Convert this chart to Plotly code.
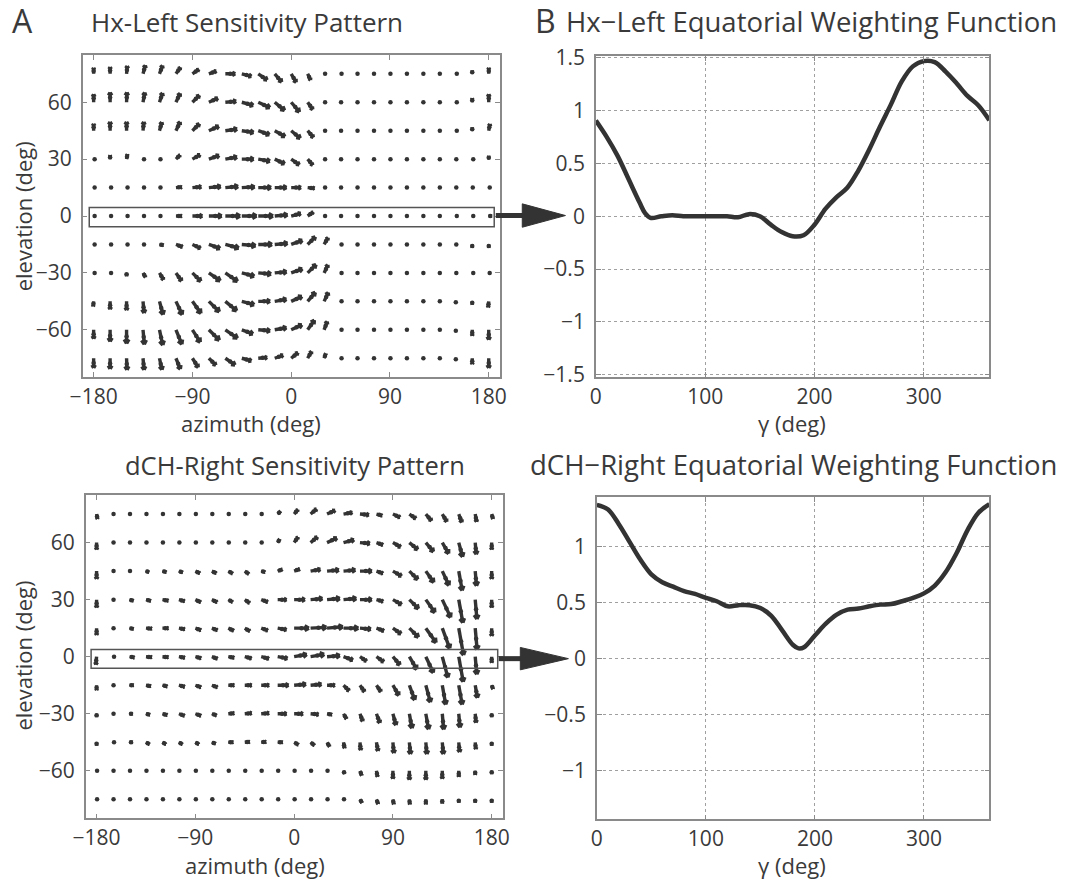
import numpy as np
import plotly.graph_objects as go

# page geometry: the browser body keeps an 8px margin, so the figure is drawn 16px smaller
PAGE_W, PAGE_H = 1083, 896
OFF = 8
FW, FH = PAGE_W - 2 * OFF, PAGE_H - 2 * OFF
FONT = "Open Sans"
TXT = "#3a3a3a"
INK = "#333333"
AXC = "#8a8a8a"

# ---------------- data ----------------
AZIMUTH = list(range(-180, 181, 15))          # 25 columns
ELEVATION = list(range(75, -76, -15))         # 11 rows, top to bottom

# Hx-Left sensitivity pattern: arrow magnitude and direction (deg, CCW from east)
HX_MAG = [
    [6, 7, 8, 9, 9, 8, 8, 8, 10, 10, 11, 11, 10, 7, 2, 2, 1, 1, 1, 1, 1, 1, 2, 3, 6],
    [8, 10, 10, 10, 10, 10, 10, 10, 11, 12, 13, 13, 13, 9, 2, 1, 1, 1, 1, 1, 1, 1, 2, 4, 8],
    [7, 9, 9, 9, 9, 10, 10, 11, 12, 12, 12, 12, 12, 9, 2, 1, 1, 1, 1, 1, 1, 1, 2, 3, 7],
    [2, 4, 5, 2, 2, 6, 9, 11, 12, 12, 12, 11, 10, 8, 2, 1, 1, 1, 1, 1, 1, 1, 1, 2, 3],
    [2, 2, 2, 2, 2, 6, 9, 12, 13, 13, 13, 12, 10, 7, 2, 1, 1, 1, 1, 1, 1, 1, 1, 1, 2],
    [2, 2, 2, 2, 2, 6, 10, 13, 15, 15, 15, 13, 10, 7, 2, 1, 1, 1, 1, 1, 1, 1, 2, 2, 3],
    [2, 2, 2, 2, 4, 7, 9, 12, 14, 14, 14, 13, 12, 11, 8, 2, 1, 1, 1, 1, 1, 1, 1, 3, 3],
    [2, 2, 3, 5, 8, 10, 12, 14, 15, 13, 13, 12, 12, 12, 9, 2, 1, 1, 1, 1, 1, 1, 1, 2, 2],
    [5, 8, 9, 12, 14, 15, 15, 15, 15, 13, 12, 12, 12, 12, 10, 2, 1, 1, 1, 1, 1, 1, 2, 3, 6],
    [9, 12, 14, 15, 16, 16, 15, 15, 15, 12, 12, 12, 12, 12, 9, 2, 1, 1, 1, 1, 1, 1, 2, 6, 10],
    [10, 11, 12, 12, 12, 12, 11, 10, 12, 10, 9, 9, 9, 8, 5, 2, 1, 1, 1, 1, 1, 1, 2, 6, 10],
]
HX_ANG = [
    [90, 90, 85, 75, 70, 55, 35, 20, 0, -15, -35, -50, -60, -65, 0, 0, 0, 0, 0, 0, 0, 0, 0, 90, 90],
    [90, 90, 88, 80, 72, 65, 45, 25, 5, -15, -25, -40, -50, -55, 0, 0, 0, 0, 0, 0, 0, 0, 0, 90, 90],
    [90, 90, 90, 85, 75, 65, 45, 25, 8, -8, -20, -30, -40, -50, 0, 0, 0, 0, 0, 0, 0, 0, 0, 90, 80],
    [0, 90, 80, 0, 0, 45, 30, 20, 10, 0, -10, -25, -35, -50, 0, 0, 0, 0, 0, 0, 0, 0, 0, 0, 90],
    [0, 0, 0, 0, 0, 5, 5, 5, 5, 3, 0, 0, 0, -5, 0, 0, 0, 0, 0, 0, 0, 0, 0, 0, 0],
    [0, 0, 0, 0, 0, 0, 0, 0, 0, 0, 0, 5, 15, 35, 0, 0, 0, 0, 0, 0, 0, 0, 0, 0, 0],
    [0, 0, 0, 0, -10, -20, -25, -20, -15, -5, 0, 5, 20, 45, 60, 0, 0, 0, 0, 0, 0, 0, 0, -90, -90],
    [0, 0, -90, -60, -60, -55, -45, -35, -35, -15, -5, 5, 20, 45, 65, 0, 0, 0, 0, 0, 0, 0, 0, 0, 0],
    [-95, -90, -90, -85, -75, -65, -55, -45, -40, -15, 0, 10, 25, 50, 65, 0, 0, 0, 0, 0, 0, 0, -90, -90, -95],
    [-90, -90, -90, -85, -78, -68, -58, -45, -35, -20, -5, 10, 25, 55, 70, 0, 0, 0, 0, 0, 0, 0, -90, -90, -90],
    [-90, -90, -88, -85, -78, -68, -58, -45, -35, -15, 5, 20, 40, 60, 70, 0, 0, 0, 0, 0, 0, 0, -90, -90, -90],
]

# dCH-Right sensitivity pattern
DCH_MAG = [
    [5, 1, 1, 1, 1, 1, 1, 1, 1, 1, 1, 4, 6, 8, 9, 9, 9, 6, 8, 8, 9, 9, 9, 8, 5],
    [7, 1, 1, 1, 1, 1, 1, 1, 1, 1, 1, 4, 7, 9, 11, 11, 10, 7, 9, 11, 12, 13, 15, 12, 7],
    [8, 1, 1, 3, 4, 4, 5, 5, 5, 5, 4, 5, 6, 10, 12, 12, 12, 7, 10, 12, 14, 16, 20, 15, 8],
    [8, 1, 4, 5, 6, 6, 6, 6, 5, 6, 7, 9, 11, 12, 13, 13, 12, 7, 10, 13, 16, 20, 24, 20, 8],
    [7, 1, 4, 6, 6, 6, 6, 6, 6, 6, 7, 9, 15, 16, 16, 15, 11, 8, 10, 13, 18, 22, 28, 22, 8],
    [8, 2, 5, 6, 6, 6, 6, 6, 6, 7, 8, 10, 13, 14, 13, 10, 8, 9, 11, 15, 18, 22, 26, 18, 6],
    [5, 1, 4, 5, 5, 6, 6, 6, 6, 7, 8, 11, 12, 11, 8, 8, 8, 8, 12, 16, 18, 20, 20, 13, 4],
    [3, 1, 3, 4, 5, 6, 6, 5, 6, 7, 8, 9, 9, 8, 5, 6, 8, 10, 12, 15, 16, 16, 14, 9, 3],
    [3, 2, 3, 4, 4, 4, 4, 4, 5, 5, 5, 5, 5, 5, 5, 6, 8, 9, 11, 12, 12, 12, 10, 7, 3],
    [1, 1, 1, 1, 1, 1, 1, 1, 1, 1, 1, 1, 1, 1, 1, 3, 5, 6, 8, 9, 9, 8, 6, 4, 3],
    [1, 1, 1, 1, 1, 1, 1, 1, 1, 1, 1, 1, 1, 1, 1, 1, 4, 5, 5, 5, 5, 4, 3, 3, 3],
]
DCH_ANG = [
    [-80, 0, 0, 0, 0, 0, 0, 0, 0, 0, 0, 45, 50, 40, 25, 10, -5, -15, -25, -35, -50, -60, -70, -80, -75],
    [-90, 0, 0, 0, 0, 0, 0, 0, 0, 0, 0, 60, 55, 40, 25, 15, -5, -20, -30, -40, -50, -60, -75, -85, -90],
    [-90, 0, 0, -20, -15, -20, -25, -25, -30, -35, -15, 20, 20, 10, 5, 5, 0, -20, -30, -45, -55, -65, -80, -85, -90],
    [-90, 0, -15, -15, -10, -15, -25, -25, -30, -35, -20, 0, 0, 5, 5, 5, 0, -15, -30, -45, -55, -65, -80, -85, -90],
    [-90, 0, -10, -5, 0, -10, -20, -20, -25, -30, -20, -10, 0, 3, 5, 0, -5, -20, -35, -45, -55, -70, -80, -85, -90],
    [-95, 0, -10, -5, -5, -10, -15, -20, -10, -15, -15, -10, 10, 10, 5, -20, -35, -35, -50, -60, -65, -75, -80, -85, -90],
    [-90, 0, 0, -10, -15, -15, -20, -20, 0, 0, 0, 0, 5, 5, 0, -45, -55, -55, -60, -70, -75, -80, -80, -80, -70],
    [-90, 0, 0, -15, -15, -20, -20, -20, 5, 5, 5, 0, 0, -5, -10, -60, -70, -70, -75, -80, -80, -85, -85, -85, -90],
    [-90, 0, 0, -30, -30, -30, -30, -20, 0, 5, 5, 0, -30, -40, -60, -80, -85, -80, -85, -85, -85, -85, -85, -85, -90],
    [0, 0, 0, 0, 0, 0, 0, 0, 0, 0, 0, 0, 0, 0, 0, -70, -70, -80, -90, -90, -90, -90, -90, -90, -90],
    [0, 0, 0, 0, 0, 0, 0, 0, 0, 0, 0, 0, 0, 0, 0, 0, -60, -70, -80, -85, -90, -90, -90, -90, -90],
]

# Equatorial weighting functions
HX_GAMMA = [0, 10, 20, 30, 40, 45, 50, 60, 70, 80, 90, 100, 110, 120, 130, 140, 150, 160, 170,
            180, 190, 200, 210, 220, 230, 240, 250, 260, 270, 280, 290, 300, 310, 320, 330, 340, 350, 360]
HX_WEIGHT = [0.907, 0.75, 0.57, 0.35, 0.13, 0.03, -0.015, 0.0, 0.01, 0.0, 0.0, 0.0, 0.0, 0.0, -0.01,
             0.02, 0.0, -0.08, -0.15, -0.19, -0.18, -0.08, 0.07, 0.18, 0.27, 0.43, 0.63, 0.85, 1.06,
             1.28, 1.42, 1.47, 1.46, 1.37, 1.26, 1.14, 1.05, 0.91]

DCH_GAMMA = [0, 10, 20, 30, 40, 50, 60, 70, 80, 90, 100, 110, 120, 130, 140, 150, 160, 170, 180, 185,
             190, 200, 210, 220, 230, 240, 250, 260, 270, 280, 290, 300, 310, 320, 330, 340, 350, 360]
DCH_WEIGHT = [1.37, 1.33, 1.20, 1.04, 0.88, 0.75, 0.68, 0.64, 0.60, 0.575, 0.54, 0.51, 0.465, 0.475,
              0.475, 0.45, 0.38, 0.25, 0.12, 0.09, 0.10, 0.205, 0.31, 0.39, 0.435, 0.445, 0.465, 0.48,
              0.485, 0.51, 0.54, 0.58, 0.65, 0.77, 0.94, 1.145, 1.30, 1.375]

# ---------------- layout geometry (page pixels -> paper) ----------------
def PX(x):
    return (x - OFF) / FW


def PY(y):
    return 1 - (y - OFF) / FH


def px_dom(x0, x1, y0, y1):
    return [PX(x0), PX(x1)], [PY(y1), PY(y0)]


DOM = {
    "A1": px_dom(79, 504, 52, 383),
    "B1": px_dom(602, 1003, 53, 383),
    "A2": px_dom(82, 507, 504, 836),
    "B2": px_dom(603, 1003, 506, 837),
}
QX_RANGE = [-190, 190]
QY_RANGE = [-85, 85]


def quiver(mag, ang, dom):
    (dx0, dx1), (dy0, dy1) = dom
    sx = (dx1 - dx0) * FW / (QX_RANGE[1] - QX_RANGE[0])
    sy = (dy1 - dy0) * FH / (QY_RANGE[1] - QY_RANGE[0])
    xs, ys, mx, my = [], [], [], []
    for i, el in enumerate(ELEVATION):
        for j, az in enumerate(AZIMUTH):
            m = mag[i][j]
            a = np.radians(ang[i][j])
            mx.append(az + 0.5 * m * np.cos(a) / sx)
            my.append(el + 0.5 * m * np.sin(a) / sy)
            if m < 2.5:
                continue
            x1 = az + m * np.cos(a) / sx
            y1 = el + m * np.sin(a) / sy
            xs += [az, x1, None]
            ys += [el, y1, None]
            hl = min(0.35 * m, 5.0)
            for s in (1, -1):
                ha = a + np.pi + s * np.radians(30)
                xs += [x1, x1 + hl * np.cos(ha) / sx, None]
                ys += [y1, y1 + hl * np.sin(ha) / sy, None]
    return xs, ys, mx, my


fig = go.Figure()

for key, mag, ang, xa, ya in [("A1", HX_MAG, HX_ANG, "x", "y"), ("A2", DCH_MAG, DCH_ANG, "x3", "y3")]:
    xs, ys, mx, my = quiver(mag, ang, DOM[key])
    fig.add_trace(go.Scatter(x=xs, y=ys, mode="lines", line=dict(color=INK, width=3.4),
                             xaxis=xa, yaxis=ya, showlegend=False, hoverinfo="skip"))
    fig.add_trace(go.Scatter(x=mx, y=my, mode="markers", marker=dict(color=INK, size=4.5),
                             xaxis=xa, yaxis=ya, showlegend=False, hoverinfo="skip"))

fig.add_trace(go.Scatter(x=HX_GAMMA, y=HX_WEIGHT, mode="lines",
                         line=dict(color=INK, width=4.5, shape="spline"),
                         xaxis="x2", yaxis="y2", showlegend=False))
fig.add_trace(go.Scatter(x=DCH_GAMMA, y=DCH_WEIGHT, mode="lines",
                         line=dict(color=INK, width=4.5, shape="spline"),
                         xaxis="x4", yaxis="y4", showlegend=False))

tickfont = dict(family=FONT, size=21, color=TXT)
base = dict(showline=True, mirror="ticks", linecolor=AXC, linewidth=1.5, ticks="inside", ticklen=5,
            tickcolor=AXC, tickfont=tickfont, zeroline=False, showgrid=False)
xb = dict(base, ticklabelstandoff=0)
yb = dict(base, ticklabelstandoff=5)
grid = dict(showgrid=True, gridcolor="#a0a0a0", griddash="dot", gridwidth=1)

fig.update_layout(
    width=FW, height=FH, margin=dict(l=0, r=0, t=0, b=0),
    paper_bgcolor="white", plot_bgcolor="white",
    xaxis=dict(xb, domain=DOM["A1"][0], range=QX_RANGE, tickvals=[-180, -90, 0, 90, 180], anchor="y"),
    yaxis=dict(yb, domain=DOM["A1"][1], range=QY_RANGE, tickvals=[-60, -30, 0, 30, 60], anchor="x"),
    xaxis2=dict(xb, **grid, domain=DOM["B1"][0], range=[0, 360], tickvals=[0, 100, 200, 300], anchor="y2"),
    yaxis2=dict(yb, **grid, domain=DOM["B1"][1], range=[-1.525, 1.52],
                tickvals=[-1.5, -1, -0.5, 0, 0.5, 1, 1.5], anchor="x2"),
    xaxis3=dict(xb, domain=DOM["A2"][0], range=QX_RANGE, tickvals=[-180, -90, 0, 90, 180], anchor="y3"),
    yaxis3=dict(yb, domain=DOM["A2"][1], range=QY_RANGE, tickvals=[-60, -30, 0, 30, 60], anchor="x3"),
    xaxis4=dict(xb, **grid, domain=DOM["B2"][0], range=[0, 360], tickvals=[0, 100, 200, 300], anchor="y4"),
    yaxis4=dict(yb, **grid, domain=DOM["B2"][1], range=[-1.435, 1.44],
                tickvals=[-1, -0.5, 0, 0.5, 1], anchor="x4"),
)

# equator boxes
fig.add_shape(type="rect", xref="x", yref="y", x0=-184, x1=185, y0=-5.7, y1=4.5,
              line=dict(color="#555", width=1.5))
fig.add_shape(type="rect", xref="x3", yref="y3", x0=-185, x1=185.5, y0=-6.1, y1=3.8,
              line=dict(color="#555", width=1.5))

# connecting arrows
for (yc, x_s0, x_s1, x_b, x_t, hh) in [(217, 500, 532, 527, 571, 12), (672, 503, 530, 525, 574, 11.5)]:
    fig.add_shape(type="line", xref="paper", yref="paper", x0=PX(x_s0), y0=PY(yc), x1=PX(x_s1), y1=PY(yc),
                  line=dict(color=INK, width=5))
    fig.add_shape(type="path", xref="paper", yref="paper",
                  path=f"M {PX(x_b)} {PY(yc - hh)} L {PX(x_t)} {PY(yc)} L {PX(x_b)} {PY(yc + hh)} Z",
                  fillcolor=INK, line=dict(color=INK, width=1))


def label(text, x, y, size=22, angle=0, anchor="center"):
    fig.add_annotation(text=text, x=PX(x), y=PY(y), xref="paper", yref="paper", showarrow=False,
                       font=dict(family=FONT, size=size, color=TXT), textangle=angle,
                       xanchor=anchor, yanchor="middle")


label("Hx-Left Sensitivity Pattern", 246, 18, 26)
label("Hx\u2212Left Equatorial Weighting Function", 1074, 18, 27.5, anchor="right")
label("dCH-Right Sensitivity Pattern", 295, 473, 25.5)
label("dCH\u2212Right Equatorial Weighting Function", 1074, 473, 27.5, anchor="right")
label("azimuth (deg)", 251, 430, 22)
label("azimuth (deg)", 255, 884, 22)
label("\u03b3 (deg)", 802, 430, 22)
label("\u03b3 (deg)", 802, 884, 22)
label("elevation (deg)", 18, 218, 22, -90)
label("elevation (deg)", 18, 669, 22, -90)
label("A", 18, 17, 32)
label("B", 551, 17, 32)

fig.write_html("out.html")
